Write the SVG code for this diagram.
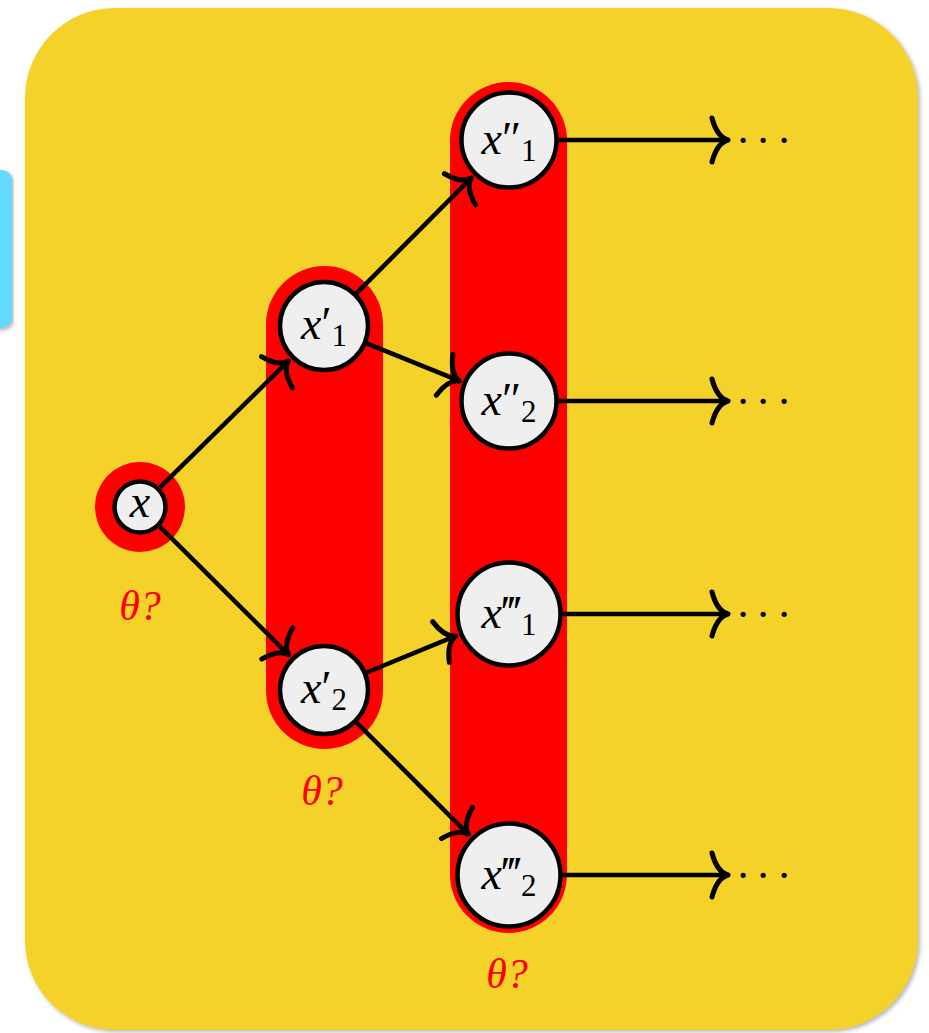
<svg xmlns="http://www.w3.org/2000/svg" width="929" height="1033" viewBox="0 0 929 1033">
  <style>
    .card { fill: #F5D22A; }
    .tab { fill: #62D9FD; }
    .band { fill: #FF0000; }
    .node { fill: #EFEFEF; stroke: #000; stroke-width: 4.5; }
    .edge { fill: none; stroke: #000; stroke-width: 4.5; marker-end: url(#to); }
  </style>
  <defs>
    <filter id="shadow" x="-5%" y="-5%" width="110%" height="110%">
      <feDropShadow dx="2" dy="2" stdDeviation="2" flood-color="#808080" flood-opacity="0.6"/>
    </filter>
    <marker id="to" markerUnits="userSpaceOnUse" viewBox="-20 -25 24 50" markerWidth="24" markerHeight="50" refX="0" refY="0" orient="auto" overflow="visible">
      <path d="M -16,-22 Q -11,-3 0,0 Q -11,3 -16,22" fill="none" stroke="#000" stroke-width="5" stroke-linecap="round" stroke-linejoin="round"/>
    </marker>
  </defs>

  <!-- side tab and main card -->
  <rect class="tab" x="-20" y="170" width="32" height="158" rx="10" filter="url(#shadow)"/>
  <rect class="card" x="25" y="8" width="893" height="1022" rx="90" filter="url(#shadow)"/>

  <!-- layer bands -->
  <g id="bands">
    <circle class="band" cx="140" cy="507" r="45"/>
    <rect class="band" x="266" y="266" width="117" height="483" rx="58.5"/>
    <rect class="band" x="450" y="82" width="117" height="851" rx="58.5"/>
  </g>

  <!-- connectors -->
  <g id="edges">
    <line class="edge" x1="160" y1="487.4" x2="288.4" y2="361"/>
    <line class="edge" x1="159.9" y1="526.7" x2="288.6" y2="654.8"/>
    <line class="edge" x1="356.4" y1="293.4" x2="471.3" y2="177.9"/>
    <line class="edge" x1="366.6" y1="343.3" x2="459.4" y2="380.9"/>
    <line class="edge" x1="366.6" y1="672.5" x2="455.8" y2="635.9"/>
    <line class="edge" x1="356.5" y1="722.5" x2="468.3" y2="834.3"/>
    <line class="edge" x1="558" y1="140" x2="728" y2="140"/>
    <line class="edge" x1="558" y1="401" x2="728" y2="401"/>
    <line class="edge" x1="562" y1="614" x2="728" y2="614"/>
    <line class="edge" x1="562" y1="875" x2="728" y2="875"/>
  </g>

  <!-- continuation dots -->
  <g id="dots" font-family="'Liberation Serif', 'DejaVu Serif', serif" font-size="44" fill="#000" text-anchor="middle">
    <text x="743 763 784" y="155">···</text>
    <text x="743 763 784" y="416">···</text>
    <text x="743 763 784" y="629">···</text>
    <text x="743 763 784" y="890">···</text>
  </g>

  <!-- nodes -->
  <g font-family="'Liberation Serif', 'DejaVu Serif', serif" font-size="46" fill="#000" text-anchor="middle">
    <g id="n-x">
      <circle class="node" cx="140" cy="507" r="25.5"/>
      <text x="140" y="517" font-style="italic">x</text>
    </g>
    <g id="n-x1p">
      <circle class="node" cx="324" cy="326" r="44"/>
      <text x="324" y="339"><tspan font-style="italic">x</tspan><tspan>′</tspan><tspan font-size="31" dy="7">1</tspan></text>
    </g>
    <g id="n-x2p">
      <circle class="node" cx="324" cy="690" r="44"/>
      <text x="324" y="703"><tspan font-style="italic">x</tspan><tspan>′</tspan><tspan font-size="31" dy="7">2</tspan></text>
    </g>
    <g id="n-x1pp">
      <circle class="node" cx="509" cy="140" r="47.5"/>
      <text x="509" y="154"><tspan font-style="italic">x</tspan><tspan>″</tspan><tspan font-size="31" dy="7">1</tspan></text>
    </g>
    <g id="n-x2pp">
      <circle class="node" cx="509" cy="401" r="47.5"/>
      <text x="509" y="415"><tspan font-style="italic">x</tspan><tspan>″</tspan><tspan font-size="31" dy="7">2</tspan></text>
    </g>
    <g id="n-x1ppp">
      <circle class="node" cx="509" cy="614" r="51.5"/>
      <text x="509" y="628"><tspan font-style="italic">x</tspan><tspan>‴</tspan><tspan font-size="31" dy="7">1</tspan></text>
    </g>
    <g id="n-x2ppp">
      <circle class="node" cx="509" cy="875" r="51.5"/>
      <text x="509" y="889"><tspan font-style="italic">x</tspan><tspan>‴</tspan><tspan font-size="31" dy="7">2</tspan></text>
    </g>
  </g>

  <!-- parameter labels -->
  <g id="labels" font-family="'Liberation Serif', 'DejaVu Serif', serif" font-size="42" font-style="italic" fill="#FF0000" text-anchor="middle">
    <text x="140" y="620">θ?</text>
    <text x="322" y="805">θ?</text>
    <text x="507" y="988">θ?</text>
  </g>
</svg>
